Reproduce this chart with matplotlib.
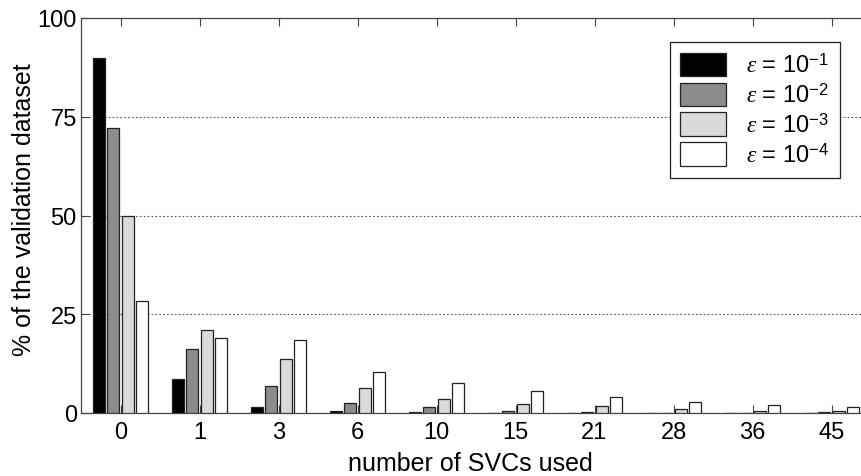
import matplotlib
matplotlib.use("Agg")
import matplotlib.pyplot as plt
import numpy as np

categories = ["0", "1", "3", "6", "10", "15", "21", "28", "36", "45"]
series_labels = [r"$\varepsilon$ = 10$^{-1}$", r"$\varepsilon$ = 10$^{-2}$",
                 r"$\varepsilon$ = 10$^{-3}$", r"$\varepsilon$ = 10$^{-4}$"]
eps_1 = [90.0, 8.6, 1.6, 0.4, 0.2, 0.05, 0.1, 0.1, 0.05, 0.05]
eps_2 = [72.2, 16.2, 6.9, 2.6, 1.4, 0.6, 0.3, 0.1, 0.1, 0.2]
eps_3 = [49.9, 21.0, 13.7, 6.4, 3.6, 2.4, 1.8, 1.0, 0.6, 0.4]
eps_4 = [28.4, 19.0, 18.4, 10.5, 7.5, 5.5, 4.0, 2.8, 2.0, 1.6]
yticks = [0, 25, 50, 75, 100]

colors = ["#000000", "#8c8c8c", "#dadada", "#ffffff"]

plt.rcParams["font.family"] = ["Liberation Sans", "DejaVu Sans"]
plt.rcParams["mathtext.fontset"] = "custom"
plt.rcParams["mathtext.rm"] = "Liberation Sans"
plt.rcParams["mathtext.it"] = "Liberation Serif:italic"

W, H = 861, 477
fig = plt.figure(figsize=(W / 100, H / 100), dpi=100)
ax = fig.add_axes([81 / W, 1 - 414 / H, 790 / W, 395 / H])

x = np.arange(1, len(categories) + 1)
step = 0.185
width = 0.152
handles = []
for i, (vals, c, lab) in enumerate(zip([eps_1, eps_2, eps_3, eps_4], colors, series_labels)):
    b = ax.bar(x + (i - 1.5) * step, vals, width=width, color=c,
               edgecolor="#222222", linewidth=0.9, label=lab, zorder=3)
    handles.append(b)

ax.set_xlim(0.5, 10.5)
ax.set_ylim(0, 100)
ax.set_xticks(x)
ax.set_xticklabels(categories)
ax.set_yticks(yticks)
ax.tick_params(axis="both", direction="in", length=5.5, width=0.8, color="#444444",
               labelsize=17, pad=3, top=True, right=False)
ax.tick_params(axis="x", pad=6)

for yv in [25, 50, 75]:
    ax.axhline(yv, color="#555555", linestyle=(0, (1.5, 2)), linewidth=0.8, zorder=1)

for s in ax.spines.values():
    s.set_color("#444444")
    s.set_linewidth(0.9)

fig.text(470 / W, 1 - 464 / H, "number of SVCs used", ha="center", va="center", fontsize=18)
fig.text(24 / W, 1 - 210 / H, "% of the validation dataset", ha="center", va="center",
         rotation=90, fontsize=18)

leg = ax.legend(handles=handles, loc="upper right",
                bbox_to_anchor=(840 / W, 1 - 43 / H), bbox_transform=fig.transFigure,
                borderaxespad=0, fontsize=17, handlelength=1.95, handleheight=1.15,
                labelspacing=0.22, handletextpad=0.85, borderpad=0.45,
                fancybox=False, framealpha=1, edgecolor="#222222")
leg.get_frame().set_linewidth(0.9)
leg.set_zorder(10)

fig.savefig("out.png", dpi=100)
